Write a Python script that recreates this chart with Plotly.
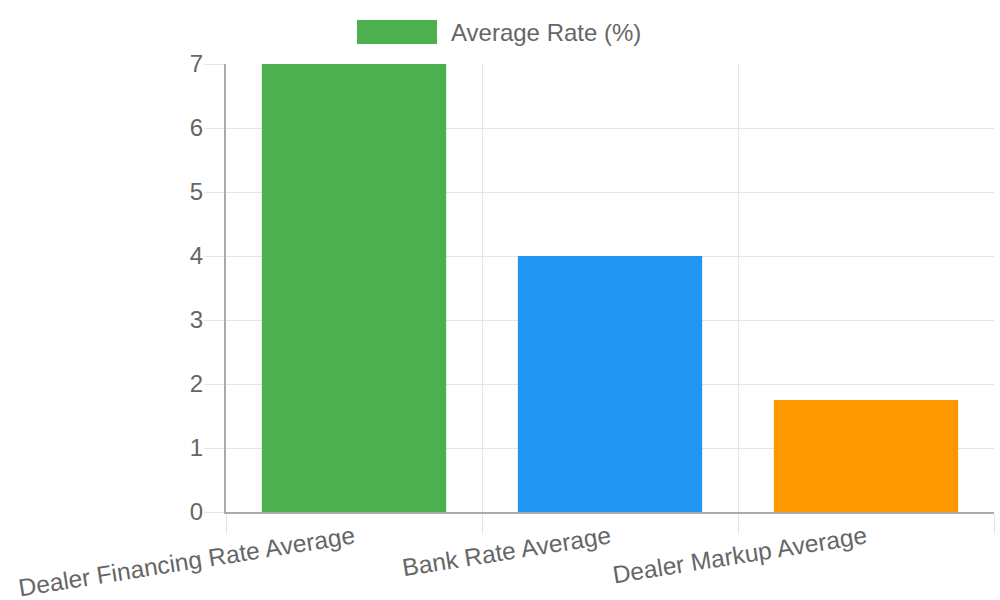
import plotly.graph_objects as go

categories = ["Dealer Financing Rate Average", "Bank Rate Average", "Dealer Markup Average"]
values = [7, 4, 1.75]
bar_colors = ["#4CAF50", "#2196F3", "#FF9800"]
series_name = "Average Rate (%)"
y_ticks = [0, 1, 2, 3, 4, 5, 6, 7]

FONT = "Liberation Sans, Arial, Helvetica, sans-serif"
GRID = "#e5e5e5"
AXIS = "#ababab"
TEXT = "#666666"

fig = go.Figure()
fig.add_trace(go.Bar(
    x=categories, y=values, name=series_name,
    marker=dict(color=bar_colors, line=dict(width=0)),
    width=0.72, showlegend=False,
))

fig.update_layout(
    width=1000, height=600,
    margin=dict(l=226, r=6, t=64, b=88, autoexpand=False),
    paper_bgcolor="white", plot_bgcolor="white",
    font=dict(family=FONT, size=24, color=TEXT),
    bargap=0.28,
    xaxis=dict(
        type="category", range=[-0.5, 2.5], automargin=False,
        tickson="boundaries", showgrid=True, gridcolor=GRID, gridwidth=1,
        ticks="outside", ticklen=20, tickcolor=GRID, tickwidth=1,
        showline=True, linecolor=AXIS, linewidth=2,
        tickangle=-9, tickfont=dict(size=24.5, color=TEXT),
    ),
    yaxis=dict(
        range=[0, 7], tickvals=y_ticks, showgrid=True, gridcolor=GRID, gridwidth=1,
        automargin=False,
        ticks="outside", ticklen=20, tickcolor=GRID, tickwidth=1,
        showline=True, linecolor=AXIS, linewidth=2, zeroline=False,
        tickfont=dict(size=24, color=TEXT), ticklabelstandoff=-4,
    ),
    shapes=[dict(
        type="rect", xref="paper", yref="paper",
        x0=(357 - 226) / 768, x1=(437 - 226) / 768,
        y0=(512 - 44) / 448, y1=(512 - 20) / 448,
        fillcolor=bar_colors[0], line=dict(width=0),
    )],
    annotations=[dict(
        xref="paper", yref="paper", x=(449 - 226) / 768, y=(512 - 32) / 448,
        text=series_name, showarrow=False, xanchor="left", yanchor="middle",
        font=dict(size=24, color=TEXT, family=FONT),
    )],
)

fig.write_html("out.html", config={"displayModeBar": False})

with open("out.html", "r", encoding="utf-8") as f:
    html = f.read()
html = html.replace("<body>", '<body style="margin:0;padding:0;overflow:hidden">', 1)
with open("out.html", "w", encoding="utf-8") as f:
    f.write(html)
